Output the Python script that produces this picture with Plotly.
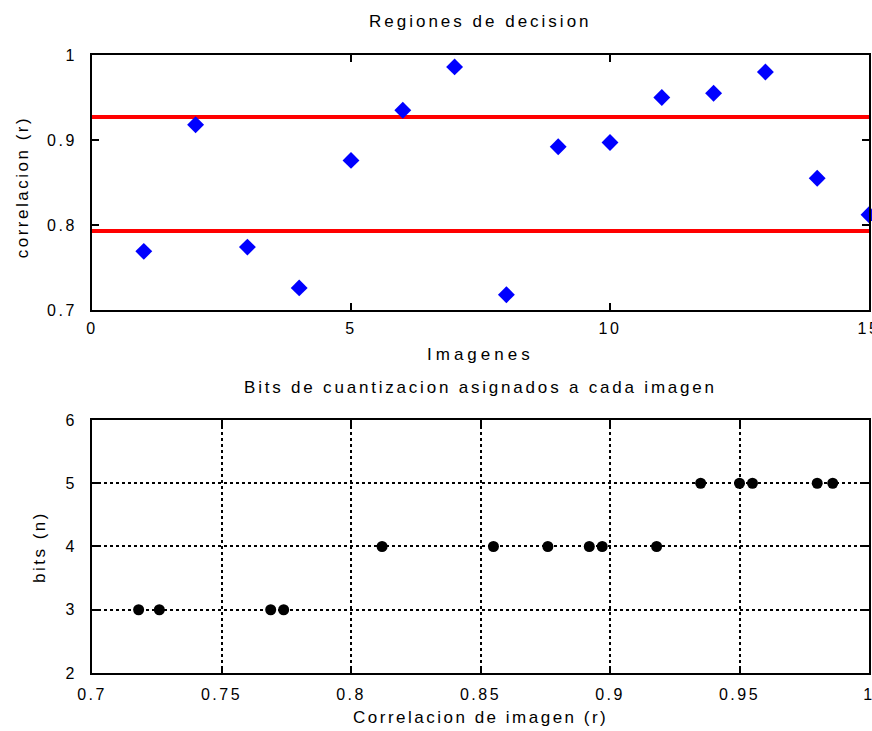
import plotly.graph_objects as go
from plotly.subplots import make_subplots

# ---- data ----
imagenes = list(range(1, 16))
correlacion = [0.769, 0.918, 0.774, 0.726, 0.876, 0.935, 0.986, 0.718,
               0.892, 0.897, 0.950, 0.955, 0.980, 0.855, 0.812]
bits = [3, 4, 3, 3, 4, 5, 5, 3, 4, 4, 5, 5, 5, 4, 4]
umbrales = [0.927, 0.793]
x_top_ticks = [0, 5, 10, 15]
x_top_labels = ["0", "5", "10", "15"]
y_top_ticks = [0.7, 0.8, 0.9, 1]
y_top_labels = ["0.7", "0.8", "0.9", "1"]
x_bot_ticks = [0.7, 0.75, 0.8, 0.85, 0.9, 0.95, 1]
x_bot_labels = ["0.7", "0.75", "0.8", "0.85", "0.9", "0.95", "1"]
y_bot_ticks = [2, 3, 4, 5, 6]
y_bot_labels = ["2", "3", "4", "5", "6"]

FONT = "Liberation Sans, Arial, Helvetica, sans-serif"


def sp(s, px=3):
    return f'<span style="letter-spacing:{px}px">{s}</span>'


fig = make_subplots(rows=2, cols=1)

for u in umbrales:
    fig.add_trace(go.Scatter(x=[0, 15], y=[u, u], mode="lines",
                             line=dict(color="#ff0000", width=4),
                             showlegend=False, cliponaxis=False), row=1, col=1)

fig.add_trace(go.Scatter(x=imagenes, y=correlacion, mode="markers",
                         marker=dict(symbol="diamond", size=13, color="#0000ff"),
                         showlegend=False, cliponaxis=False), row=1, col=1)

fig.add_trace(go.Scatter(x=correlacion, y=bits, mode="markers",
                         marker=dict(symbol="circle", size=11, color="#000000"),
                         showlegend=False, cliponaxis=False), row=2, col=1)

axis_common = dict(showline=True, linecolor="black", linewidth=2, mirror="ticks",
                   ticks="inside", ticklen=7, tickwidth=1.5, tickcolor="black",
                   tickfont=dict(family=FONT, size=16, color="black"),
                   zeroline=False, automargin=False, ticklabeloverflow="allow")

fig.update_xaxes(range=[0, 15], tickvals=x_top_ticks,
                 ticktext=[sp(t, 2.5) for t in x_top_labels], showgrid=False,
                 ticklabelstandoff=3, domain=[0, 1], **axis_common, row=1, col=1)
fig.update_yaxes(range=[0.7, 1], tickvals=y_top_ticks,
                 ticktext=[sp(t, 2.5) for t in y_top_labels], showgrid=False,
                 ticklabelstandoff=10, domain=[0.5874, 1], **axis_common, row=1, col=1)
fig.update_xaxes(range=[0.7, 1], tickvals=x_bot_ticks,
                 ticktext=[sp(t, 2.5) for t in x_bot_labels],
                 showgrid=True, gridcolor="black", gridwidth=1.5, griddash="3px,3px",
                 ticklabelstandoff=6, domain=[0, 1], **axis_common, row=2, col=1)
fig.update_yaxes(range=[2, 6], tickvals=y_bot_ticks,
                 ticktext=[sp(t, 2.5) for t in y_bot_labels], showgrid=True,
                 gridcolor="black", gridwidth=1.5, griddash="3px,3px",
                 ticklabelstandoff=10, domain=[0, 0.4094], **axis_common, row=2, col=1)


def txt(s, x, y, angle=0, spacing=3):
    fig.add_annotation(text=sp(s, spacing), x=x, y=y, xref="paper", yref="paper",
                       showarrow=False, textangle=angle,
                       font=dict(family=FONT, size=17, color="black"),
                       xanchor="center", yanchor="middle")


txt("Regiones de decision", 0.5, 1.0534, spacing=3)
txt("Imagenes", 0.5, 0.5146, spacing=4)
txt("correlacion (r)", -0.0901, 0.786, -90, spacing=2.5)
txt("Bits de cuantizacion asignados a cada imagen", 0.5, 0.4612, spacing=2.8)
txt("Correlacion de imagen (r)", 0.5, -0.0728, spacing=2.5)
txt("bits (n)", -0.0669, 0.2039, -90, spacing=2.5)

fig.update_layout(width=872, height=731, margin=dict(l=92, r=3, t=55, b=58),
                  paper_bgcolor="white", plot_bgcolor="white")

fig.write_html("out.html")
